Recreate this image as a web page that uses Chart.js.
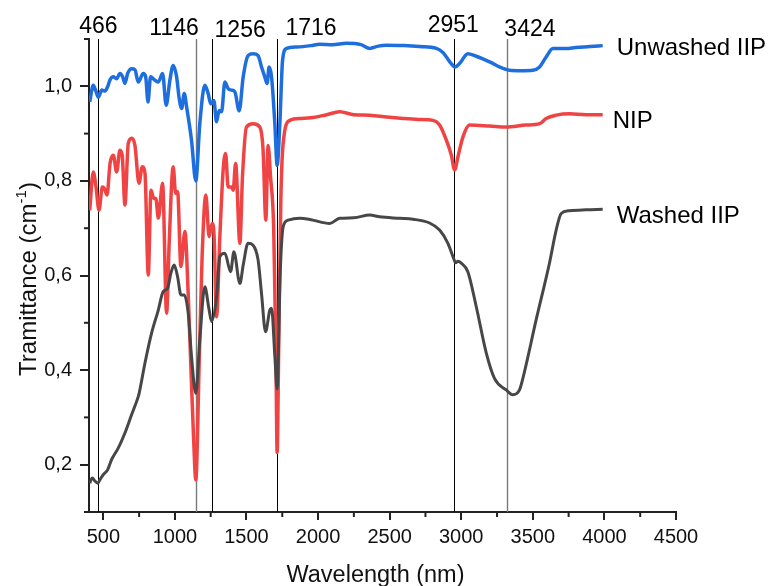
<!DOCTYPE html>
<html><head><meta charset="utf-8">
<script src="https://cdn.jsdelivr.net/npm/chart.js@4.4.1/dist/chart.umd.min.js"></script>
<style>html,body{margin:0;padding:0;background:#fff;}canvas{display:block;}</style>
</head><body>
<canvas id="c" width="768" height="586"></canvas>
<script>
// ---- DATA ----
const seriesNames = ['Unwashed IIP', 'NIP', 'Washed IIP'];

const unwashedX = [405,430,448,465,489,512,530,546,570,593,616,635,651,670,698,721,744,779,796,812,830,860,884,914,939,965,988,1012,1030,1047,1065,1082,1116,1146,1174,1209,1232,1251,1272,1291,1309,1326,1349,1372,1396,1419,1449,1477,1511,1546,1581,1605,1628,1644,1658,1675,1698,1714,1733,1752,1779,1850,1950,2012,2100,2198,2300,2361,2420,2477,2600,2709,2826,2870,2896,2930,2954,2988,3046,3100,3151,3210,3267,3337,3420,3500,3547,3593,3640,3733,3800,3900,3988];
const unwashedY = [0.967,1.002,0.990,0.977,0.992,0.990,0.999,1.013,1.020,1.016,1.027,1.020,1.006,1.027,1.037,1.035,1.009,1.027,1.020,0.967,1.020,1.013,1.009,1.027,0.960,1.013,1.044,1.020,0.974,0.953,0.985,0.956,0.886,0.800,0.921,1.002,0.985,0.963,0.970,0.925,0.949,0.946,1.009,0.995,0.992,0.988,0.948,1.020,1.065,1.069,1.065,1.041,1.020,1.006,1.041,1.020,0.921,0.833,0.921,1.055,1.080,1.083,1.086,1.089,1.088,1.091,1.088,1.080,1.085,1.087,1.086,1.084,1.080,1.072,1.062,1.048,1.041,1.048,1.069,1.064,1.058,1.050,1.041,1.034,1.033,1.034,1.041,1.062,1.080,1.080,1.082,1.084,1.086];

const nipX = [405,430,449,470,493,507,526,547,570,593,616,632,651,674,698,721,749,772,791,814,833,853,867,884,914,942,960,988,1005,1019,1042,1070,1093,1110,1130,1146,1170,1190,1216,1239,1260,1274,1291,1314,1337,1354,1372,1396,1407,1424,1454,1472,1500,1546,1593,1616,1635,1651,1668,1690,1705,1714,1725,1740,1756,1802,1880,1965,2060,2151,2250,2361,2480,2593,2700,2802,2849,2896,2931,2954,2977,3012,3058,3198,3314,3450,3547,3593,3663,3756,3870,3988];
const nipY = [0.738,0.819,0.787,0.738,0.787,0.784,0.770,0.837,0.854,0.819,0.865,0.854,0.749,0.879,0.890,0.875,0.795,0.830,0.816,0.601,0.780,0.763,0.763,0.721,0.795,0.520,0.668,0.830,0.774,0.777,0.619,0.693,0.560,0.420,0.260,0.168,0.420,0.640,0.770,0.682,0.710,0.682,0.513,0.682,0.823,0.858,0.787,0.787,0.780,0.837,0.668,0.809,0.914,0.921,0.914,0.865,0.717,0.875,0.809,0.700,0.450,0.226,0.450,0.760,0.879,0.928,0.932,0.934,0.940,0.946,0.940,0.939,0.935,0.932,0.930,0.928,0.918,0.886,0.854,0.823,0.851,0.893,0.918,0.916,0.914,0.918,0.921,0.932,0.939,0.942,0.940,0.940];

const washedX = [405,423,440,461,480,500,530,558,604,651,698,744,751,791,837,884,918,949,972,995,1019,1042,1065,1093,1116,1146,1174,1209,1237,1256,1291,1314,1349,1389,1412,1454,1477,1511,1546,1581,1605,1633,1663,1675,1698,1714,1735,1756,1791,1872,1950,2081,2151,2250,2361,2430,2570,2663,2779,2849,2907,2947,2960,2977,3000,3046,3105,3175,3233,3314,3360,3407,3430,3523,3616,3663,3698,3756,3870,3988];
const washedY = [0.161,0.172,0.166,0.161,0.170,0.179,0.189,0.211,0.235,0.267,0.306,0.344,0.352,0.415,0.478,0.527,0.566,0.573,0.605,0.622,0.597,0.559,0.559,0.520,0.429,0.351,0.464,0.576,0.531,0.503,0.555,0.640,0.647,0.608,0.650,0.583,0.622,0.668,0.664,0.633,0.562,0.481,0.527,0.531,0.430,0.360,0.600,0.703,0.717,0.721,0.718,0.710,0.721,0.722,0.728,0.724,0.721,0.719,0.711,0.696,0.668,0.636,0.627,0.630,0.626,0.608,0.534,0.436,0.382,0.358,0.348,0.358,0.382,0.506,0.626,0.696,0.731,0.737,0.739,0.740];

const peakPositions = [466, 1146, 1256, 1716, 2951, 3322];
const peakLabels = ['466', '1146', '1256', '1716', '2951', '3424'];

const xTickValues = [500, 1000, 1500, 2000, 2500, 3000, 3500, 4000, 4500];
const xTickLabels = ['500', '1000', '1500', '2000', '2500', '3000', '3500', '4000', '4500'];
const xMinorTicks = [750, 1250, 1750, 2250, 2750, 3250, 3750, 4250];
const yTickValues = [0.2, 0.4, 0.6, 0.8, 1.0];
const yTickLabels = ['0,2', '0,4', '0,6', '0,8', '1,0'];
const yMinorTicks = [0.1, 0.3, 0.5, 0.7, 0.9, 1.1];

// ---- STYLE ----
const FONT = '"Liberation Sans", Arial, sans-serif';
const zip = (xs, ys) => xs.map((x, i) => ({x: x, y: ys[i]}));
const peakStyle = [
  {align: 'center', dx: 0, y: 33, gray: false},
  {align: 'right', dx: 3, y: 35, gray: true},
  {align: 'left', dx: 3, y: 37, gray: false},
  {align: 'left', dx: 8, y: 35, gray: false},
  {align: 'center', dx: -1, y: 32, gray: false},
  {align: 'left', dx: -3, y: 36, gray: true}
];
// dataset index -> label offset from last point
const seriesLabelStyle = [
  {ds: 1, dx: 14, dy: 9},
  {ds: 2, dx: 10, dy: 13},
  {ds: 0, dx: 14, dy: 14}
];

const overlay = {
  id: 'overlay',
  beforeDatasetsDraw(chart) {
    const {ctx, chartArea, scales: {x}} = chart;
    ctx.save();
    peakPositions.forEach((v, i) => {
      const px = Math.round(x.getPixelForValue(v)) + 0.5;
      ctx.strokeStyle = peakStyle[i].gray ? '#7a7a7a' : '#000';
      ctx.lineWidth = peakStyle[i].gray ? 1.4 : 1;
      ctx.beginPath();
      ctx.moveTo(px, chartArea.top);
      ctx.lineTo(px, chartArea.bottom);
      ctx.stroke();
    });
    ctx.restore();
  },
  afterDraw(chart) {
    const {ctx, chartArea, scales: {x, y}} = chart;
    ctx.save();
    // minor ticks
    ctx.strokeStyle = '#222';
    ctx.lineWidth = 2;
    xMinorTicks.forEach(v => {
      const px = x.getPixelForValue(v);
      ctx.beginPath(); ctx.moveTo(px, chartArea.bottom); ctx.lineTo(px, chartArea.bottom + 5); ctx.stroke();
    });
    yMinorTicks.forEach(v => {
      const py = y.getPixelForValue(v);
      ctx.beginPath(); ctx.moveTo(chartArea.left, py); ctx.lineTo(chartArea.left - 5, py); ctx.stroke();
    });
    // peak labels
    ctx.fillStyle = '#000';
    ctx.font = '23px ' + FONT;
    ctx.textBaseline = 'alphabetic';
    peakLabels.forEach((t, i) => {
      const s = peakStyle[i];
      ctx.textAlign = s.align;
      ctx.fillText(t, x.getPixelForValue(peakPositions[i]) + s.dx, s.y);
    });
    // series labels
    ctx.font = '24px ' + FONT;
    ctx.textAlign = 'left';
    seriesLabelStyle.forEach(s => {
      const meta = chart.getDatasetMeta(s.ds);
      const pt = meta.data[meta.data.length - 1];
      ctx.fillText(chart.data.datasets[s.ds].label, pt.x + s.dx, pt.y + s.dy);
    });
    // x axis title
    ctx.fillStyle = '#111';
    ctx.font = '23.5px ' + FONT;
    ctx.textAlign = 'center';
    ctx.fillText('Wavelength (nm)', chartArea.left + (chartArea.right - chartArea.left) / 2 - 7, 582);
    // y axis title with superscript
    ctx.textAlign = 'left';
    ctx.translate(36, 279);
    ctx.rotate(-Math.PI / 2);
    const main = 'Tramittance (cm', sup = '-1', end = ')';
    ctx.font = '24px ' + FONT;
    const w1 = ctx.measureText(main).width, w3 = ctx.measureText(end).width;
    ctx.font = '15px ' + FONT;
    const w2 = ctx.measureText(sup).width;
    let x0 = -(w1 + w2 + w3) / 2;
    ctx.font = '24px ' + FONT;
    ctx.fillText(main, x0, 0);
    ctx.font = '15px ' + FONT;
    ctx.fillText(sup, x0 + w1, -10);
    ctx.font = '24px ' + FONT;
    ctx.fillText(end, x0 + w1 + w2, 0);
    ctx.restore();
  }
};

new Chart(document.getElementById('c').getContext('2d'), {
  type: 'line',
  data: {
    datasets: [
      {label: seriesNames[2], data: zip(washedX, washedY), borderColor: '#474747', borderWidth: 3},
      {label: seriesNames[0], data: zip(unwashedX, unwashedY), borderColor: '#1e6fdd', borderWidth: 3.5},
      {label: seriesNames[1], data: zip(nipX, nipY), borderColor: '#f04444', borderWidth: 3.5}
    ]
  },
  options: {
    responsive: false,
    animation: false,
    devicePixelRatio: 1,
    elements: {point: {radius: 0}, line: {cubicInterpolationMode: 'monotone', fill: false}},
    layout: {padding: {top: 39, right: 92, left: 0, bottom: 0}},
    plugins: {legend: {display: false}, tooltip: {enabled: false}},
    scales: {
      x: {
        type: 'linear', min: 400, max: 4500,
        afterBuildTicks: s => { s.ticks = xTickValues.map(v => ({value: v})); },
        afterFit: s => { s.height = 74; },
        ticks: {callback: (v, i) => xTickLabels[i], font: {family: FONT, size: 20}, color: '#111', padding: 5, maxRotation: 0, autoSkip: false},
        grid: {display: true, drawOnChartArea: false, drawTicks: true, tickLength: 8, lineWidth: 2, color: '#222'},
        border: {display: true, width: 2, color: '#222'},
        title: {display: false}
      },
      y: {
        type: 'linear', min: 0.1, max: 1.1,
        afterBuildTicks: s => { s.ticks = yTickValues.map(v => ({value: v})); },
        afterFit: s => { s.width = 89; },
        ticks: {callback: (v, i) => yTickLabels[i], font: {family: FONT, size: 20}, color: '#111', padding: 8},
        grid: {display: true, drawOnChartArea: false, drawTicks: true, tickLength: 9, lineWidth: 2, color: '#222'},
        border: {display: true, width: 2, color: '#222'}
      }
    }
  },
  plugins: [overlay]
});
</script>
</body></html>
